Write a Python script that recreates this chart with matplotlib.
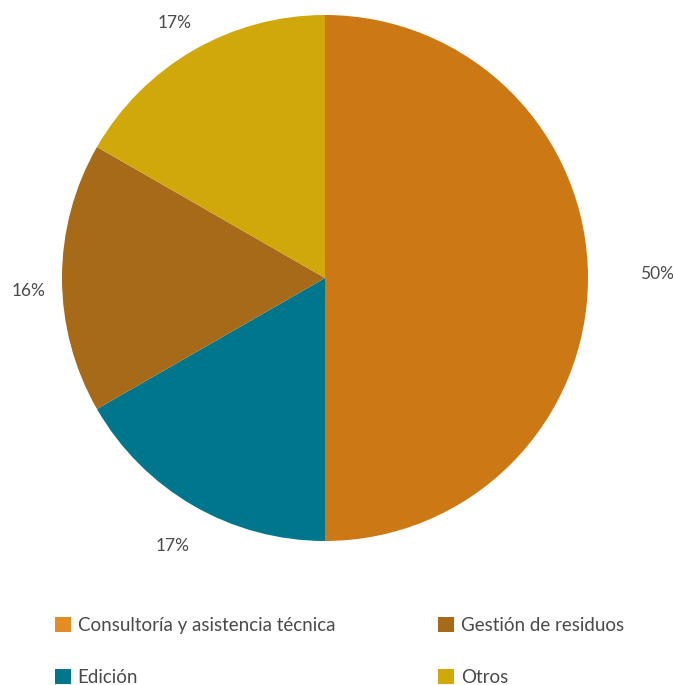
import matplotlib
matplotlib.use("Agg")
import matplotlib.pyplot as plt
from matplotlib.patches import Patch
import numpy as np

categories = ["Consultoría y asistencia técnica", "Edición", "Gestión de residuos", "Otros"]
values = [50, 16.7, 16.6, 16.7]
labels_pct = ["50%", "17%", "16%", "17%"]
slice_colors = ["#CC7815", "#00768C", "#A66A18", "#D1A80A"]
legend_colors = ["#E38B25", "#00768C", "#A66A18", "#D1A80A"]
label_dist = [1.26, 1.17, 1.13, 1.14]
label_shift_pt = [(0.5, 3.0), (1.5, -1.5), (0.5, -9.5), (0.0, -3.5)]

plt.rcParams['font.family'] = ['Lato', 'DejaVu Sans']
text_color = "#4a4a4a"

fig = plt.figure(figsize=(6.73, 6.85), dpi=100)
ax = fig.add_axes([(325 - 263) / 673, (685 - 278 - 263) / 685, 526 / 673, 526 / 685])
wedges, _ = ax.pie(values, colors=slice_colors, startangle=90, counterclock=False,
                   radius=1.0, wedgeprops=dict(linewidth=0))
ax.set_aspect('equal')
ax.set_xlim(-1, 1)
ax.set_ylim(-1, 1)
ax.axis('off')

for w, lab, d, sh in zip(wedges, labels_pct, label_dist, label_shift_pt):
    ang = np.deg2rad((w.theta1 + w.theta2) / 2)
    ax.annotate(lab, (d * np.cos(ang), d * np.sin(ang)), xytext=sh,
                textcoords='offset points', ha='center', va='center',
                fontsize=12.5, color=text_color, annotation_clip=False)

handles = [Patch(facecolor=c, edgecolor='none') for c in legend_colors]
order = [0, 1, 2, 3]
leg = fig.legend([handles[i] for i in order], [categories[i] for i in order],
                 ncol=2, loc='upper left', bbox_to_anchor=(55 / 673, 1 - 617 / 685),
                 frameon=False, fontsize=13.5, handlelength=0.85, handleheight=0.85,
                 handletextpad=0.35, columnspacing=5.5, labelspacing=1.88,
                 labelcolor=text_color, borderaxespad=0, borderpad=0)

fig.savefig("out.png", dpi=100)
